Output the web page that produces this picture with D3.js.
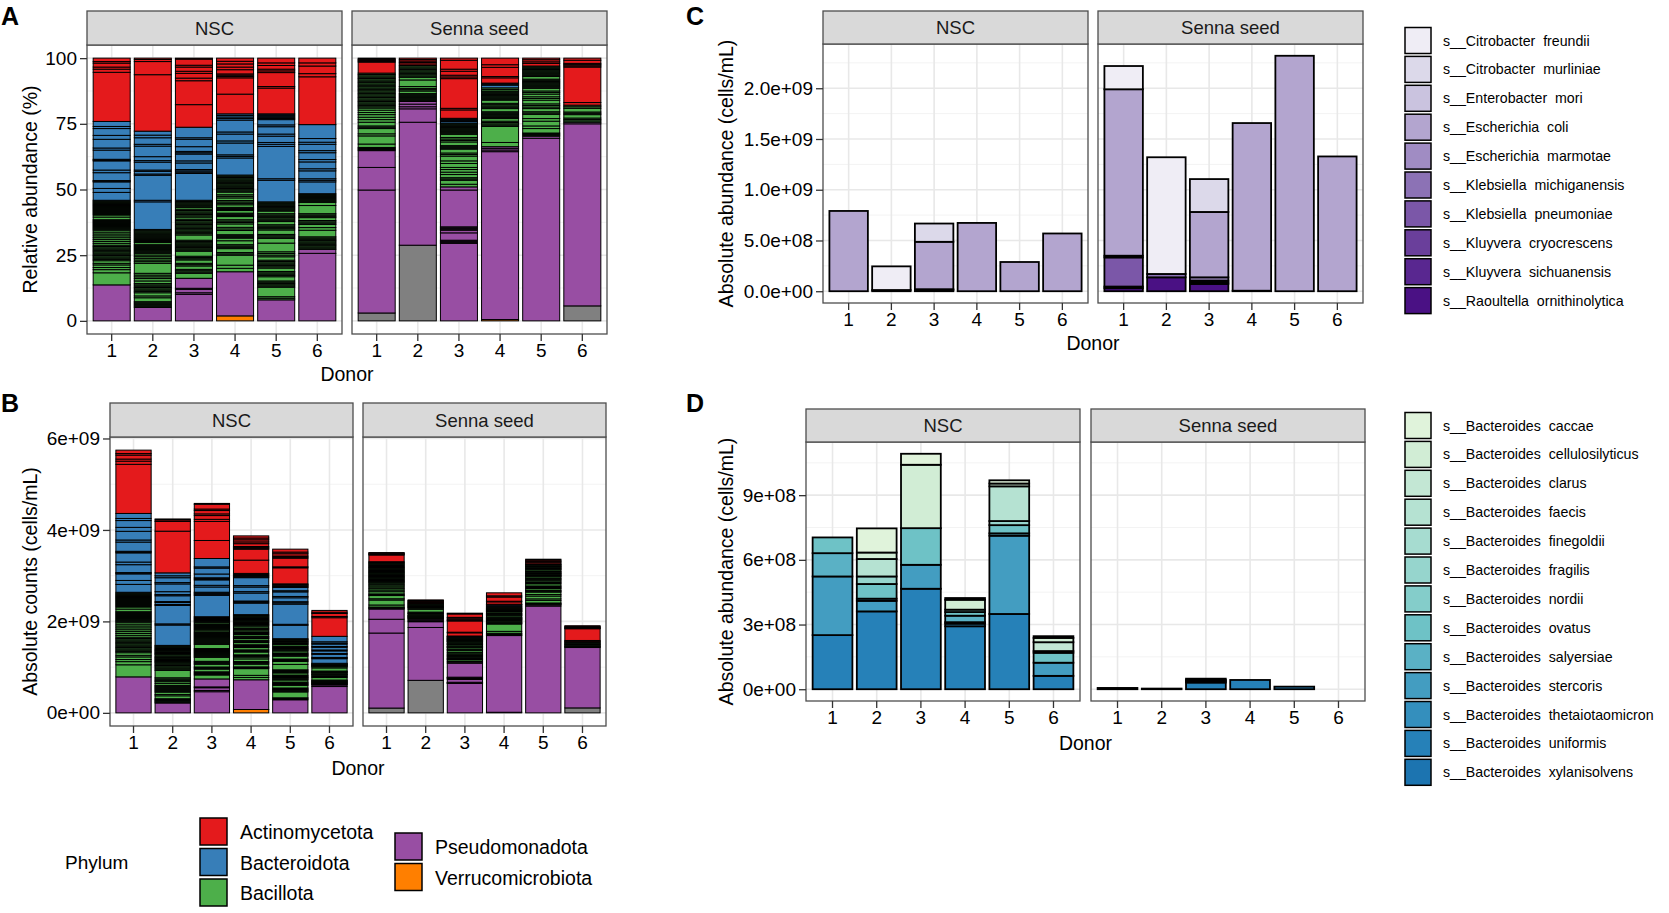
<!DOCTYPE html>
<html lang="en">
<head>
<meta charset="UTF-8">
<title>Donor microbiota abundance</title>
<script src="https://d3js.org/d3.v7.min.js"></script>
<style>
  body { margin: 0; background: #fff; }
  svg text { font-family: "Liberation Sans", Arial, Helvetica, sans-serif; }
</style>
</head>
<body>
<svg id="fig" width="1669" height="913"></svg>
<script>
// ---------- data ----------
const donors = ["1", "2", "3", "4", "5", "6"];
const facets = ["NSC", "Senna seed"];

const phylumCodes = ["Act", "Bct", "Bac", "Pse", "Ver", "NA"];
const phylumNames = ["Actinomycetota", "Bacteroidota", "Bacillota", "Pseudomonadota", "Verrucomicrobiota"];

// relative abundance (%) per donor, segments bottom -> top: [phylum, %, number of species sharing it]
const relNSC = [
  [["Pse",13.7],["Bac",4.6],["Bac",1.2],["Bac",0.8],["Bac",1.0],["Bac",0.6],["Bac",1.0],["Bac",5.9,12],["Bac",5.7,8],
   ["Bac",4.0,10],["Bac",1.0],["Bac",0.8],["Bac",5.6,14],
   ["Bct",3.0],["Bct",1.5],["Bct",2.5],["Bct",0.5,2],["Bct",3.0],["Bct",1.0],["Bct",3.5],["Bct",0.6,2],["Bct",3.5],["Bct",0.8],
   ["Bct",3.3],["Bct",1.5],["Bct",2.6],["Bct",0.8],["Bct",1.9],
   ["Act",18.7],["Act",1.2],["Act",0.8],["Act",1.5],["Act",0.6],["Act",1.3]],
  [["Pse",5.1],["Bac",2.2,5],["Bac",1.5],["Bac",0.7],["Bac",1.2],["Bac",3.5,7],["Bac",1.0],["Bac",0.9],["Bac",2.0,3],["Bac",3.8],
   ["Bac",3.8,6],["Bac",3.3,8],["Bac",0.8],["Bac",3.2,8],["Bac",1.8,4],
   ["Bct",10.5],["Bct",0.6],["Bct",9.5],["Bct",0.5],["Bct",1.0],["Bct",0.5],["Bct",3.0],["Bct",0.6],["Bct",1.5],["Bct",4.0],
   ["Bct",0.7],["Bct",2.5],["Bct",1.0],["Bct",1.5],
   ["Act",21.5],["Act",5.0],["Act",0.8],["Act",0.5]],
  [["Pse",10.1],["Pse",0.6],["Pse",1.3],["Pse",0.4],["Pse",3.8],
   ["Bac",1.9],["Bac",1.5,3],["Bac",1.3],["Bac",1.0,2],["Bac",1.3],["Bac",1.4,3],["Bac",1.9],["Bac",4.2,9],["Bac",2.0],["Bac",1.0,2],
   ["Bac",5.0,10],["Bac",0.8],["Bac",3.0,6],["Bac",0.7],["Bac",2.7,6],
   ["Bct",10.2],["Bct",1.5,3],["Bct",2.5],["Bct",0.8],["Bct",2.6],["Bct",1.0,2],["Bct",1.8],["Bct",2.8],["Bct",0.6],["Bct",4.0],
   ["Act",8.6],["Act",9.1],["Act",1.0],["Act",1.8],["Act",0.8],["Act",1.6],["Act",0.7],["Act",2.3],["Act",0.4]],
  [["Ver",1.9],["Pse",16.8],
   ["Bac",1.3],["Bac",1.2],["Bac",3.8],["Bac",1.0,2],["Bac",1.5],["Bac",1.5,3],["Bac",1.5],["Bac",1.0],["Bac",1.3,3],["Bac",1.6],
   ["Bac",1.2,2],["Bac",1.3],["Bac",1.6,3],["Bac",1.2],["Bac",1.3,3],["Bac",1.0],["Bac",1.2,3],["Bac",1.0],["Bac",1.6,3],["Bac",1.0],
   ["Bac",1.2,2],["Bac",1.0],["Bac",6.5,14],
   ["Bct",6.5],["Bct",1.2,2],["Bct",4.5],["Bct",0.8],["Bct",2.6],["Bct",0.8],["Bct",4.5],["Bct",2.4,4],
   ["Act",7.5],["Act",6.2],["Act",1.5,3],["Act",1.6],["Act",1.0],["Act",1.2],["Act",1.0],["Act",1.2]],
  [["Pse",8.0],
   ["Bac",1.2,2],["Bac",3.6],["Bac",2.4,5],["Bac",1.6],["Bac",2.0,4],["Bac",1.3],["Bac",3.0,6],["Bac",1.3],["Bac",1.9,3],["Bac",3.3],
   ["Bac",1.8],["Bac",1.5,3],["Bac",1.7],["Bac",2.0,4],["Bac",1.2],["Bac",3.0,6],["Bac",1.0],["Bac",3.5,8],
   ["Bct",8.2],["Bct",0.6],["Bct",12.3],["Bct",0.8],["Bct",0.7],["Bct",2.4],["Bct",0.8],["Bct",2.8],["Bct",0.7],["Bct",2.0],["Bct",2.2,5],
   ["Act",9.8],["Act",0.6],["Act",5.3],["Act",1.3,2],["Act",1.4],["Act",1.0],["Act",1.8]],
  [["Pse",25.7],["Pse",1.5],
   ["Bac",4.8,10],["Bac",2.5],["Bac",1.0],["Bac",1.2],["Bac",1.5,3],["Bac",1.1],["Bac",1.5,3],["Bac",3.1],["Bac",1.2],["Bac",3.3,8],
   ["Bct",4.5],["Bct",1.2,2],["Bct",3.0],["Bct",0.8],["Bct",2.6],["Bct",0.9],["Bct",2.6],["Bct",0.8],["Bct",2.4],["Bct",0.8],["Bct",1.4],["Bct",5.3],
   ["Act",18.2],["Act",1.2],["Act",2.9],["Act",1.2],["Act",1.8]]
];
const relSenna = [
  [["NA",3.0],["Pse",46.8],["Pse",8.6],["Pse",6.4],["Pse",1.2,3],
   ["Bac",1.3],["Bac",3.1],["Bac",0.8],["Bac",2.0],["Bac",1.0,2],["Bac",1.4],["Bac",1.0],["Bac",0.9],["Bac",1.0],["Bac",0.8],["Bac",0.9],
   ["Bac",0.8],["Bac",3.0,6],["Bac",10.3,20],
   ["Act",4.2],["Act",1.5,4]],
  [["NA",28.8],["Pse",46.8],["Pse",5.1],["Pse",0.8],["Pse",1.0],["Pse",1.0],
   ["Bac",3.0,7],["Bac",1.0],["Bac",1.0,2],["Bac",0.7],["Bac",2.5],["Bac",1.0],["Bac",4.5,9],
   ["Act",0.6],["Act",2.2,4]],
  [["Pse",29.5],["Pse",1.2,3],["Pse",2.8],["Pse",1.0],["Pse",1.3,3],["Pse",14.0],["Pse",1.2],
   ["Bac",1.0],["Bac",1.5],["Bac",1.0,2],["Bac",1.2],["Bac",0.9],["Bac",1.0],["Bac",0.8],["Bac",1.5],["Bac",1.0],["Bac",1.8],["Bac",1.2,2],
   ["Bac",1.5],["Bac",1.3,3],["Bac",1.4],["Bac",1.7,3],["Bac",1.2],["Bac",4.3,10],
   ["Bct",0.6],["Bct",1.2,3],
   ["Act",3.2],["Act",0.6],["Act",11.3],["Act",1.3,2],["Act",1.5],["Act",0.8],["Act",3.4],["Act",0.8]],
  [["Ver",0.5],["Pse",63.9],["Pse",1.9,3],
   ["Bac",1.6],["Bac",6.1],["Bac",2.0,4],["Bac",1.0],["Bac",2.6,6],["Bac",1.2],["Bac",2.0,4],["Bac",1.2],["Bac",3.5,8],["Bac",1.2,2],
   ["Bct",1.0],["Bct",0.8,2],
   ["Act",2.0],["Act",0.5],["Act",3.5],["Act",1.0],["Act",2.5]],
  [["Pse",69.5],["Pse",0.8],
   ["Bac",1.2,3],["Bac",1.7],["Bac",1.0],["Bac",1.8],["Bac",1.0],["Bac",1.6],["Bac",1.0,2],["Bac",1.2],["Bac",1.8,3],["Bac",1.4],
   ["Bac",1.3,2],["Bac",1.0],["Bac",1.2,2],["Bac",1.0],["Bac",3.5,8],["Bac",1.0],["Bac",4.0,9],
   ["Act",1.0],["Act",0.6],["Act",0.8],["Act",0.6]],
  [["NA",5.7],["Pse",69.3],["Pse",0.6],
   ["Bac",1.6,3],["Bac",1.3],["Bac",1.0,2],["Bac",1.4],["Bac",1.2,2],
   ["Act",1.0],["Act",13.5],["Act",1.4,3],["Act",1.2],["Act",0.8]]
];

// absolute counts (cells/mL, x1e9) per donor
const totalNSC = [5.745, 4.24, 4.58, 3.87, 3.58, 2.24];
const totalSenna = [3.505, 2.47, 2.18, 2.625, 3.36, 1.905];

// panel C: Enterobacteriaceae species (x1e8 cells/mL), one row per donor
const cSpecies = ["Citrobacter  freundii", "Citrobacter  murliniae", "Enterobacter  mori", "Escherichia  coli",
  "Escherichia  marmotae", "Klebsiella  michiganensis", "Klebsiella  pneumoniae", "Kluyvera  cryocrescens",
  "Kluyvera  sichuanensis", "Raoultella  ornithinolytica"];
const cNSC = [
  [0, 0, 0, 7.91, 0, 0, 0, 0, 0, 0],
  [2.33, 0, 0, 0.12, 0, 0, 0, 0, 0, 0],
  [0, 1.80, 0, 4.67, 0, 0, 0.10, 0, 0, 0.10],
  [0, 0, 0, 6.73, 0, 0, 0, 0, 0, 0],
  [0, 0, 0, 2.88, 0, 0, 0, 0, 0, 0],
  [0, 0, 0, 5.69, 0, 0, 0, 0, 0, 0]
];
const cSenna = [
  [2.29, 0, 0, 16.4, 0, 0.17, 2.87, 0, 0.16, 0.30],
  [11.5, 0, 0, 0, 0, 0.33, 0, 0, 0, 1.37],
  [0, 3.24, 0, 6.44, 0.32, 0, 0, 0.18, 0.15, 0.72],
  [0, 0, 0, 16.52, 0, 0, 0, 0, 0, 0.05],
  [0, 0, 0, 23.2, 0, 0, 0, 0, 0, 0],
  [0, 0, 0, 13.28, 0, 0, 0, 0, 0, 0]
];

// panel D: Bacteroides species (x1e8 cells/mL), one row per donor
const dSpecies = ["caccae", "cellulosilyticus", "clarus", "faecis", "finegoldii", "fragilis", "nordii", "ovatus",
  "salyersiae", "stercoris", "thetaiotaomicron", "uniformis", "xylanisolvens"];
const dNSC = [
  [0, 0, 0, 0, 0, 0, 0, 0.73, 1.08, 2.72, 0, 2.51, 0],
  [1.12, 0.30, 0, 0.81, 0, 0.35, 0, 0.68, 0.10, 0.49, 0, 3.61, 0],
  [0.51, 2.94, 0, 0, 0, 0, 0, 1.70, 0, 1.11, 0, 4.66, 0],
  [0.08, 0.46, 0, 0, 0, 0.11, 0, 0.17, 0.30, 0.07, 0.12, 2.92, 0],
  [0.15, 0.13, 0, 1.61, 0, 0.19, 0, 0.38, 0.11, 3.63, 0, 3.49, 0],
  [0.08, 0.20, 0.41, 0, 0.08, 0, 0, 0.46, 0, 0.61, 0, 0.62, 0]
];
const dSenna = [
  [0, 0, 0, 0, 0, 0, 0, 0, 0, 0, 0, 0.06, 0],
  [0, 0, 0, 0, 0, 0, 0, 0, 0, 0, 0, 0.03, 0],
  [0, 0, 0, 0, 0, 0, 0, 0, 0.06, 0.06, 0.06, 0.31, 0],
  [0, 0, 0, 0, 0, 0, 0, 0, 0, 0, 0, 0.43, 0],
  [0, 0, 0, 0, 0, 0, 0, 0, 0, 0, 0, 0.12, 0],
  [0, 0, 0, 0, 0, 0, 0, 0, 0, 0, 0, 0, 0]
];

// axis ticks
const aTicks = [0, 25, 50, 75, 100], aMinor = [12.5, 37.5, 62.5, 87.5];
const bTicks = [0, 2e9, 4e9, 6e9], bTickLabels = ["0e+00", "2e+09", "4e+09", "6e+09"], bMinor = [1e9, 3e9, 5e9];
const cTicks = [0, 5e8, 1e9, 1.5e9, 2e9], cTickLabels = ["0.0e+00", "5.0e+08", "1.0e+09", "1.5e+09", "2.0e+09"],
  cMinor = [2.5e8, 7.5e8, 1.25e9, 1.75e9, 2.25e9];
const dTicks = [0, 3e8, 6e8, 9e8], dTickLabels = ["0e+00", "3e+08", "6e+08", "9e+08"], dMinor = [1.5e8, 4.5e8, 7.5e8, 10.5e8];

// ---------- colours ----------
const phylumColor = d3.scaleOrdinal().domain(phylumCodes)
  .range(["#E41A1C", "#377EB8", "#4DAF4A", "#984EA3", "#FF7F00", "#808080"]);
const cColor = d3.scaleOrdinal().domain(cSpecies)
  .range(["#efedf5", "#dcd9ea", "#cac3df", "#b3a5cf", "#a08cc3", "#8c72b5", "#7b57a8", "#6a3f9b", "#592790", "#4a1184"]);
const dColor = d3.scaleOrdinal().domain(dSpecies)
  .range(["#e0f3db", "#d1edd5", "#c3e7d4", "#b5e2d2", "#a6dcd0", "#96d5cd", "#84cdca", "#6ec2c6",
          "#5ab1c5", "#439dc1", "#348fbd", "#2681b8", "#1c74b0"]);

const svg = d3.select("#fig");

// expand [n parts] segments into stacked rows (bottom -> top)
function stackRel(segs, scale) {
  const rows = [];
  let acc = 0;
  segs.forEach(s => {
    const n = s[2] || 1;
    for (let k = 0; k < n; k++) {
      const v = s[1] / n * scale;
      rows.push({ key: s[0], y0: acc, y1: acc + v });
      acc += v;
    }
  });
  return rows;
}
// species matrix row -> stacked rows, last level at the bottom
function stackSpecies(row, names, unit) {
  const rows = [];
  let acc = 0;
  for (let i = names.length - 1; i >= 0; i--) {
    if (row[i] > 0) {
      rows.push({ key: names[i], y0: acc, y1: acc + row[i] * unit });
      acc += row[i] * unit;
    }
  }
  return rows;
}

function drawPanel(cfg) {
  const y = d3.scaleLinear().domain(cfg.yDomain).range([cfg.bottom, cfg.top]);
  cfg.facetX.forEach((fx, fi) => {
    const x = d3.scaleBand().domain(donors).range([fx, fx + cfg.width])
      .paddingInner(0.1).paddingOuter(0.15);
    const g = svg.append("g");

    g.append("rect").attr("x", fx).attr("y", cfg.top).attr("width", cfg.width)
      .attr("height", cfg.bottom - cfg.top).attr("fill", "#fff");
    g.selectAll("line.minor").data(cfg.minor).join("line").attr("class", "minor")
      .attr("x1", fx).attr("x2", fx + cfg.width).attr("y1", d => y(d)).attr("y2", d => y(d))
      .attr("stroke", "#f3f3f3").attr("stroke-width", 1);
    g.selectAll("line.major").data(cfg.ticks).join("line").attr("class", "major")
      .attr("x1", fx).attr("x2", fx + cfg.width).attr("y1", d => y(d)).attr("y2", d => y(d))
      .attr("stroke", "#e8e8e8").attr("stroke-width", 1.6);
    g.selectAll("line.vmajor").data(donors).join("line").attr("class", "vmajor")
      .attr("x1", d => x(d) + x.bandwidth() / 2).attr("x2", d => x(d) + x.bandwidth() / 2)
      .attr("y1", cfg.top).attr("y2", cfg.bottom)
      .attr("stroke", "#e8e8e8").attr("stroke-width", 1.6);

    cfg.bars[fi].forEach((rows, di) => {
      g.append("g").selectAll("rect").data(rows).join("rect")
        .attr("x", x(donors[di])).attr("width", x.bandwidth())
        .attr("y", d => y(d.y1)).attr("height", d => Math.max(0, y(d.y0) - y(d.y1)))
        .attr("fill", d => cfg.color(d.key))
        .attr("stroke", "#000").attr("stroke-width", cfg.strokeW);
    });

    g.append("rect").attr("x", fx).attr("y", cfg.top).attr("width", cfg.width)
      .attr("height", cfg.bottom - cfg.top).attr("fill", "none")
      .attr("stroke", "#4d4d4d").attr("stroke-width", 1.3);

    // strip
    g.append("rect").attr("x", fx).attr("y", cfg.stripTop).attr("width", cfg.width)
      .attr("height", cfg.top - cfg.stripTop).attr("fill", "#d9d9d9")
      .attr("stroke", "#4d4d4d").attr("stroke-width", 1.3);
    g.append("text").attr("x", fx + cfg.width / 2).attr("y", (cfg.stripTop + cfg.top) / 2)
      .attr("text-anchor", "middle").attr("dominant-baseline", "central")
      .attr("font-size", 18.5).attr("fill", "#1a1a1a").text(facets[fi]);

    const xa = g.append("g").attr("transform", "translate(0," + cfg.bottom + ")")
      .call(d3.axisBottom(x).tickSize(7).tickPadding(3));
    xa.select(".domain").remove();
    xa.selectAll("line").attr("stroke", "#333").attr("stroke-width", 1.3);
    xa.selectAll("text").attr("font-size", 19).attr("fill", "#000")
      .style("font-family", "'Liberation Sans', Arial, sans-serif");

    if (fi === 0) {
      const ya = g.append("g").attr("transform", "translate(" + fx + ",0)")
        .call(d3.axisLeft(y).tickValues(cfg.ticks).tickFormat((d, i) => cfg.tickLabels[i])
          .tickSize(7).tickPadding(3));
      ya.select(".domain").remove();
      ya.selectAll("line").attr("stroke", "#333").attr("stroke-width", 1.3);
      ya.selectAll("text").attr("font-size", 19).attr("fill", "#000")
        .style("font-family", "'Liberation Sans', Arial, sans-serif");
    }
  });

  const right = cfg.facetX[1] + cfg.width;
  svg.append("text").attr("x", (cfg.facetX[0] + right) / 2).attr("y", cfg.xTitleY)
    .attr("text-anchor", "middle").attr("dominant-baseline", "central")
    .attr("font-size", 19.5).text("Donor");
  svg.append("text")
    .attr("transform", "translate(" + cfg.yTitleX + "," + (cfg.top + cfg.bottom) / 2 + ") rotate(-90)")
    .attr("text-anchor", "middle").attr("dominant-baseline", "central")
    .attr("font-size", 19.5).text(cfg.yTitle);
  svg.append("text").attr("x", cfg.letterX).attr("y", cfg.letterY)
    .attr("font-size", 25).attr("font-weight", "bold").text(cfg.letter);
}

// ---------- panel A ----------
drawPanel({
  letter: "A", letterX: 1, letterY: 25,
  facetX: [87, 352], width: 255, stripTop: 11, top: 45, bottom: 334,
  yDomain: [-5, 105], ticks: aTicks, tickLabels: aTicks.map(String), minor: aMinor,
  bars: [relNSC.map(b => stackRel(b, 1)), relSenna.map(b => stackRel(b, 1))],
  color: phylumColor, strokeW: 1.0,
  xTitleY: 374, yTitleX: 30, yTitle: "Relative abundance (%)"
});

// ---------- panel B ----------
const bMax = d3.max(totalNSC.concat(totalSenna)) * 1e9;
drawPanel({
  letter: "B", letterX: 1, letterY: 412,
  facetX: [110, 363], width: 243, stripTop: 403, top: 437, bottom: 726,
  yDomain: [-0.05 * bMax, 1.05 * bMax], ticks: bTicks, tickLabels: bTickLabels, minor: bMinor,
  bars: [relNSC.map((b, i) => stackRel(b, totalNSC[i] * 1e7)),
         relSenna.map((b, i) => stackRel(b, totalSenna[i] * 1e7))],
  color: phylumColor, strokeW: 1.0,
  xTitleY: 768, yTitleX: 30, yTitle: "Absolute counts (cells/mL)"
});

// ---------- panel C ----------
const cRowsNSC = cNSC.map(r => stackSpecies(r, cSpecies, 1e8));
const cRowsSenna = cSenna.map(r => stackSpecies(r, cSpecies, 1e8));
const cMax = d3.max(cRowsNSC.concat(cRowsSenna), rows => d3.max(rows, d => d.y1));
drawPanel({
  letter: "C", letterX: 686, letterY: 25,
  facetX: [823, 1098], width: 265, stripTop: 11, top: 44, bottom: 303,
  yDomain: [-0.05 * cMax, 1.05 * cMax], ticks: cTicks, tickLabels: cTickLabels, minor: cMinor,
  bars: [cRowsNSC, cRowsSenna],
  color: cColor, strokeW: 1.8,
  xTitleY: 343, yTitleX: 726, yTitle: "Absolute abundance (cells/mL)"
});

// ---------- panel D ----------
const dRowsNSC = dNSC.map(r => stackSpecies(r, dSpecies, 1e8));
const dRowsSenna = dSenna.map(r => stackSpecies(r, dSpecies, 1e8));
const dMax = d3.max(dRowsNSC.concat(dRowsSenna), rows => d3.max(rows, d => d.y1) || 0);
drawPanel({
  letter: "D", letterX: 686, letterY: 412,
  facetX: [806, 1091], width: 274, stripTop: 409, top: 442, bottom: 701,
  yDomain: [-0.05 * dMax, 1.05 * dMax], ticks: dTicks, tickLabels: dTickLabels, minor: dMinor,
  bars: [dRowsNSC, dRowsSenna],
  color: dColor, strokeW: 1.8,
  xTitleY: 743, yTitleX: 726, yTitle: "Absolute abundance (cells/mL)"
});

// ---------- legends ----------
function speciesLegend(names, prefix, color, top) {
  const g = svg.append("g");
  const step = 28.9;
  g.selectAll("rect").data(names).join("rect")
    .attr("x", 1405).attr("y", (d, i) => top + i * step).attr("width", 26).attr("height", 26)
    .attr("fill", d => color(d)).attr("stroke", "#000").attr("stroke-width", 1.5);
  g.selectAll("text").data(names).join("text")
    .attr("x", 1443).attr("y", (d, i) => top + i * step + 13)
    .attr("dominant-baseline", "central").attr("font-size", 14.2)
    .style("white-space", "pre")
    .text(d => "s__" + prefix + d);
}
speciesLegend(cSpecies, "", cColor, 27.5);
speciesLegend(dSpecies, "Bacteroides  ", d => dColor(d), 412.5);

// phylum legend
const lg = svg.append("g");
lg.append("text").attr("x", 65).attr("y", 862).attr("dominant-baseline", "central")
  .attr("font-size", 19).text("Phylum");
const legendCols = [[0, 1, 2], [3, 4]];
const colX = [200, 395], colTop = [818, 833];
legendCols.forEach((col, ci) => {
  col.forEach((pi, k) => {
    const yy = colTop[ci] + k * 30.5;
    lg.append("rect").attr("x", colX[ci]).attr("y", yy).attr("width", 27).attr("height", 27)
      .attr("fill", phylumColor(phylumCodes[pi])).attr("stroke", "#000").attr("stroke-width", 1.5);
    lg.append("text").attr("x", colX[ci] + 40).attr("y", yy + 14)
      .attr("dominant-baseline", "central").attr("font-size", 19.5).text(phylumNames[pi]);
  });
});
</script>
</body>
</html>
